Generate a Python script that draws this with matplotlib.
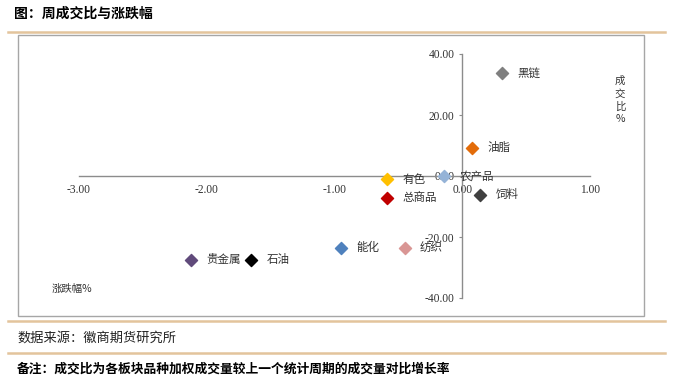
import numpy as np
import matplotlib
matplotlib.use('Agg')
import matplotlib.pyplot as plt
from matplotlib.lines import Line2D
from matplotlib.patches import Rectangle

plt.rcParams['font.family'] = ['Noto Sans CJK SC', 'DejaVu Sans']

# data: x = 涨跌幅 %, y = 成交比 %
names = ['黑链', '油脂', '有色', '农产品', '饲料', '总商品', '能化', '纺织', '贵金属', '石油']
chg = [0.31, 0.08, -0.59, -0.14, 0.14, -0.59, -0.95, -0.45, -2.12, -1.65]
vol = [33.8, 9.2, -1.1, 0.0, -6.2, -7.2, -23.5, -23.5, -27.5, -27.5]
colors = ['#7F7F7F', '#E36C09', '#FFC000', '#95B3D7', '#404040',
          '#C00000', '#4F81BD', '#D99694', '#604A7B', '#000000']

W, H = 673, 392
fig = plt.figure(figsize=(W / 100, H / 100), dpi=100)
ax = fig.add_axes([79 / W, 1 - 298 / H, 511 / W, 244 / H])

for n, x, y, c in zip(names, chg, vol, colors):
    ax.scatter(x, y, marker='D', s=38, color=c, zorder=3, clip_on=False)
    ax.annotate(n, (x, y), xytext=(11, 0), textcoords='offset points',
                va='center', ha='left', fontsize=8.3, color='#333333')

ax.set_xlim(-3, 1)
ax.set_ylim(-40, 40)
ax.set_xticks([-3, -2, -1, 0, 1])
ax.set_yticks([-40, -20, 0, 20, 40])
ax.xaxis.set_major_formatter(plt.FormatStrFormatter('%.2f'))
ax.yaxis.set_major_formatter(plt.FormatStrFormatter('%.2f'))

for s in ['top', 'right']:
    ax.spines[s].set_visible(False)
ax.spines['left'].set_position('zero')
ax.spines['bottom'].set_position('zero')
for s in ['left', 'bottom']:
    ax.spines[s].set_color('#8C8C8C')
    ax.spines[s].set_linewidth(1)

ax.tick_params(axis='x', length=0, pad=6, labelsize=8.3, labelcolor='#333333')
ax.tick_params(axis='y', length=2.5, direction='out', color='#8C8C8C',
               pad=3, labelsize=8.3, labelcolor='#333333')
for lab in ax.get_xticklabels() + ax.get_yticklabels():
    lab.set_family('Liberation Serif')
ax.patch.set_visible(False)

# axis titles
fig.text(620 / W, 1 - 100 / H, '成\n交\n比\n%', ha='center', va='center',
         fontsize=7.5, linespacing=1.3, color='#333333')
fig.text(52 / W, 1 - 289 / H, '涨跌幅%', ha='left', va='center',
         fontsize=7.5, color='#333333')

# frame and report decoration
fig.add_artist(Rectangle((18 / W, 1 - 316 / H), 626 / W, 281 / H,
                         transform=fig.transFigure, fill=False,
                         edgecolor='#A6A6A6', linewidth=1))
for yy in [32, 321, 353]:
    fig.add_artist(Line2D([8 / W, 665 / W], [1 - yy / H] * 2,
                          color='#E3C49C', linewidth=1.8))

fig.text(14 / W, 1 - 14 / H, '图：周成交比与涨跌幅', fontsize=10,
         fontweight='bold', va='center', ha='left')
fig.text(17 / W, 1 - 338 / H, '数据来源：徽商期货研究所', fontsize=9.5,
         va='center', ha='left', color='#222222')
fig.text(17 / W, 1 - 369 / H, '备注：成交比为各板块品种加权成交量较上一个统计周期的成交量对比增长率',
         fontsize=9.2, fontweight='bold', va='center', ha='left')

plt.savefig('out.png', dpi=100)
